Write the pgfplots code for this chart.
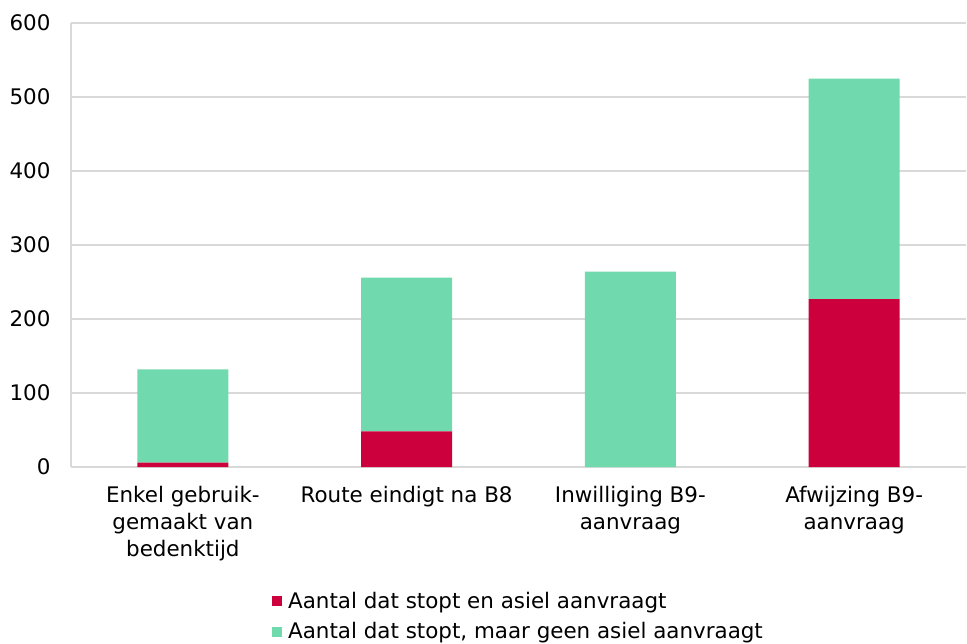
\documentclass[border=0pt]{standalone}
\usepackage{fontspec}
\setmainfont{DejaVu Sans}
\usepackage{pgfplots}
\pgfplotsset{compat=1.18}
\definecolor{cred}{HTML}{CC003D}
\definecolor{cgreen}{HTML}{71D9AE}
\definecolor{cgrid}{HTML}{D9D9D9}
\begin{document}
\begin{tikzpicture}
\useasboundingbox (-71bp,-177bp) rectangle (896bp,467bp);
\begin{axis}[
  at={(0,0)}, anchor=south west,
  scale only axis,
  width=895bp, height=444bp,
  ybar stacked,
  bar width=91bp,
  xmin=-0.5, xmax=3.5,
  ymin=0, ymax=600,
  ytick={0,100,...,600},
  xtick={0,1,2,3},
  xticklabels={{Enkel gebruik-\\gemaakt van\\bedenktijd},{Route eindigt na B8},{Inwilliging B9-\\aanvraag},{Afwijzing B9-\\aanvraag}},
  xticklabel style={align=center, font=\fontsize{21.5}{27}\selectfont, yshift=-16bp},
  yticklabel style={font=\fontsize{21.5}{24}\selectfont, xshift=-17bp},
  /pgf/number format/assume math mode=true,
  major tick length=0pt,
  ymajorgrids,
  grid style={cgrid, line width=1.2bp},
  axis x line*=bottom, axis y line*=left,
  axis line style={cgrid, line width=1.2bp, -},
  legend style={at={(0.5,-0.272)}, anchor=north, draw=none, font=\fontsize{21.5}{24}\selectfont, row sep=9bp},
  legend cell align=left,
  legend image code/.code={\fill[#1] (0bp,-5bp) rectangle (10bp,5bp); \path (14bp,0bp);},
]
\addplot[fill=cred, draw=none] coordinates {(0,6) (1,48) (2,0) (3,227)};
\addlegendentry{Aantal dat stopt en asiel aanvraagt}
\addplot[fill=cgreen, draw=none] coordinates {(0,126) (1,208) (2,264) (3,298)};
\addlegendentry{Aantal dat stopt, maar geen asiel aanvraagt}
\end{axis}
\end{tikzpicture}
\end{document}
